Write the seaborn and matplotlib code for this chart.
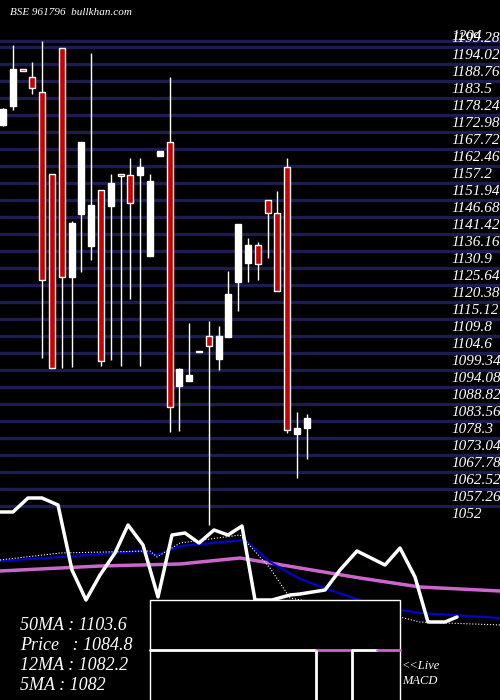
import matplotlib
matplotlib.use("Agg")
import matplotlib.pyplot as plt
import seaborn as sns
import pandas as pd
import numpy as np

sns.set_style("dark")
plt.rcParams['font.family'] = ['Liberation Serif', 'DejaVu Serif']

# candles
opens  = [1169.9,1175.8,1187.0,1184.7,1180.1,1154.7,1193.7,1122.9,1142.4,1132.4,1149.8,1144.8,1154.5,1154.4,1154.4,1129.4,1160.3,1164.6,1089.1,1090.7,1099.9,1104.6,1097.5,1104.3,1121.3,1127.2,1132.8,1146.7,1142.7,1156.9,1074.3,1076.1]
highs  = [1175.0,1194.6,1187.2,1189.4,1195.9,1154.7,1193.7,1140.2,1164.6,1192.2,1149.8,1154.7,1154.7,1159.7,1159.7,1154.7,1161.9,1184.7,1094.7,1108.6,1100.0,1109.2,1107.7,1124.7,1139.3,1134.9,1133.7,1146.7,1149.5,1159.7,1081.1,1080.5]
lows   = [1169.5,1174.5,1186.6,1179.5,1097.8,1094.7,1094.7,1095.0,1124.4,1128.1,1095.3,1097.2,1095.3,1116.0,1095.3,1129.4,1160.3,1074.9,1075.2,1090.7,1099.5,1046.0,1094.1,1104.3,1112.3,1121.3,1121.9,1128.7,1118.5,1074.6,1060.7,1066.5]
closes = [1174.8,1187.2,1186.7,1181.3,1121.9,1094.7,1122.9,1139.6,1164.6,1145.1,1096.9,1152.0,1154.2,1145.7,1156.9,1152.6,1161.9,1082.6,1094.4,1092.5,1099.6,1101.5,1104.6,1117.6,1139.3,1132.8,1126.9,1142.7,1118.5,1075.5,1076.1,1079.2]
levels = [1204,1199.28,1194.02,1188.76,1183.5,1178.24,1172.98,1167.72,1162.46,1157.2,1151.94,1146.68,1141.42,1136.16,1130.9,1125.64,1120.38,1115.12,1109.8,1104.6,1099.34,1094.08,1088.82,1083.56,1078.3,1073.04,1067.78,1062.52,1057.26,1052]
level_labels = ["1204","1199.28","1194.02","1188.76","1183.5","1178.24","1172.98","1167.72","1162.46","1157.2","1151.94","1146.68","1141.42","1136.16","1130.9","1125.64","1120.38","1115.12","1109.8","1104.6","1099.34","1094.08","1088.82","1083.56","1078.3","1073.04","1067.78","1062.52","1057.26","1052"]

# lower indicator panel (panel units, 0 top .. 700 bottom)
macd_x = [0,13,28,42,58,72,86,100,115,128,143,158,172,185,199,214,228,242,255,272,290,300,325,340,357,385,400,415,428,445,457]
macd_y = [512,512,498,498,505,570,600,575,553,525,545,597,535,533,543,530,535,526,600,600,595,594,590,570,551,565,548,577,622,622,617]
blue_x = [0,60,140,157,180,245,270,300,330,365,400,420,500]
blue_y = [561,557,551,555,546,540,562,579,590,602,610,613,618]
mag_x = [0,100,180,240,300,360,420,500]
mag_y = [571,566,564,558,568,578,587,591]
dot_x = [0,60,150,157,180,240,270,290,330,400,420,500]
dot_y = [560,553,551,557,543,535,568,598,605,617,622,625]

fig = plt.figure(figsize=(5,7), dpi=100, facecolor='black')
ax = fig.add_axes([0,0,1,1])
ax.set_facecolor('black')
ax.set_xlim(0,500)
ax.set_ylim(991.97, 1208.56)
ax.axis('off')

ax.axhline(1195.8, color='#1c1c50', lw=2.4, zorder=1)
for lv in levels[2:]:
    ax.axhline(lv, color='#1c1c50', lw=2.4, zorder=1)
for lv, lb in zip(levels, level_labels):
    y = lv - 0.5 if lv < 1195 else (1199.4 if lb == "1204" else 1198.6)
    ax.text(451, y, lb, color='white', fontsize=11, style='italic', va='top', ha='left', zorder=5)

xs = 3 + np.arange(len(opens))*9.8
for x,o,h,l,c in zip(xs,opens,highs,lows,closes):
    ax.vlines(x, l, h, color='white', lw=1, zorder=2)
    up = c >= o
    ax.bar(x, abs(c-o) if abs(c-o)>0.3 else 0.6, bottom=min(o,c), width=6,
           color='white' if up else '#cc0000', edgecolor='white', lw=1, zorder=3)

ax.text(10, 1204.6, "BSE 961796  bullkhan.com", color='white', fontsize=8, style='italic', va='center')

ax2 = fig.add_axes([0,0,1,1])
ax2.set_xlim(0,500); ax2.set_ylim(700,0); ax2.axis('off'); ax2.patch.set_alpha(0)
sns.lineplot(x=mag_x, y=mag_y, ax=ax2, color='#cc66cc', lw=2.5, sort=False)
sns.lineplot(x=blue_x, y=blue_y, ax=ax2, color='#0000dd', lw=1.5, sort=False)
sns.lineplot(x=dot_x, y=dot_y, ax=ax2, color='white', lw=0.8, ls=':', sort=False)
sns.lineplot(x=macd_x, y=macd_y, ax=ax2, color='white', lw=2.5, sort=False)
ax2.add_patch(plt.Rectangle((150,600),250,105, facecolor='black', edgecolor='white', lw=1, zorder=5))
ax2.plot([150,316],[650,650], color='white', lw=2, zorder=6)
ax2.plot([316,352],[650,650], color='#cc66cc', lw=2, zorder=6)
ax2.plot([352,377],[650,650], color='white', lw=2, zorder=6)
ax2.plot([377,400],[650,650], color='#cc66cc', lw=2, zorder=6)
ax2.vlines([316,352],650,700, color='white', lw=2, zorder=6)
for i,t in enumerate(["50MA : 1103.6","Price   : 1084.8","12MA : 1082.2","5MA : 1082"]):
    ax2.text(20, 625+20*i, t, color='white', fontsize=13, style='italic', va='center')
ax2.text(402, 666, "<<Live", color='white', fontsize=9, style='italic', va='center')
ax2.text(402, 681, "MACD", color='white', fontsize=9, style='italic', va='center')

fig.savefig("out.png", dpi=100, facecolor='black')
